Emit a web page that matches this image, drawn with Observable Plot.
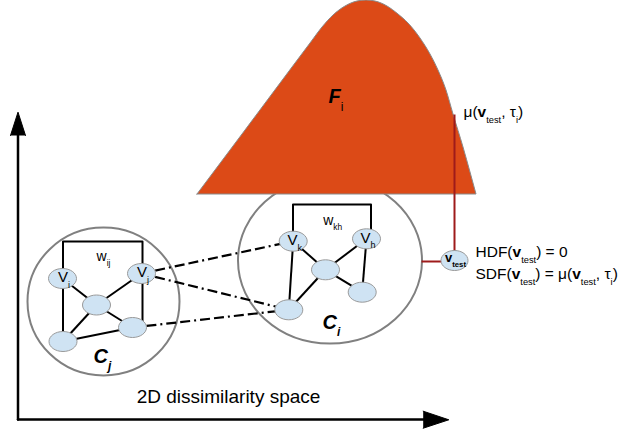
<!DOCTYPE html>
<html>
<head>
<meta charset="utf-8">
<script src="https://cdn.jsdelivr.net/npm/d3@7"></script>
<script src="https://cdn.jsdelivr.net/npm/@observablehq/plot@0.6"></script>
<style>
  html, body { margin: 0; padding: 0; background: #fff; }
  #chart svg { display: block; }
</style>
</head>
<body>
<div id="chart"></div>
<script>
// ---- density curve F_i (top outline, base at densityBase) ----
const densityX = [197, 245, 292, 310, 322, 333, 345, 357, 366, 375, 387, 398, 408, 420, 430, 438, 446, 453, 463, 470, 476];
const densityY = [194, 130, 67, 43, 27, 15, 6, 1, 0, 1, 6, 14, 23, 38, 54, 70, 90, 114, 147, 172, 194];
const densityBase = 194;

// ---- graph nodes ----
const nodeNames  = ["Vi", "Vj", "Cj-mid", "Cj-rl", "Cj-bl", "Vk", "Vh", "Ci-mid", "Ci-rl", "Ci-bl"];
const nodeX      = [62, 141, 96, 132, 62.5, 292.7, 366, 325, 361.7, 288.3];
const nodeY      = [278, 273, 304.5, 327, 341, 240.7, 238.3, 269.3, 291.7, 309.3];
const nodeLabels = ["V_{i}", "V_{j}", "", "", "", "V_{k}", "V_{h}", "", "", ""];

// ---- edges inside clusters ----
const edgeFrom = ["Vi", "Cj-mid", "Vj", "Cj-mid", "Cj-bl", "Vk", "Ci-mid", "Ci-mid", "Vh", "Vk", "Ci-mid"];
const edgeTo   = ["Cj-mid", "Cj-rl", "Cj-mid", "Cj-bl", "Cj-rl", "Ci-mid", "Vh", "Ci-rl", "Ci-rl", "Ci-bl", "Ci-bl"];

// ---- dash-dot links between clusters ----
const linkFrom = ["Vj", "Vj", "Cj-rl"];
const linkTo   = ["Vk", "Ci-bl", "Ci-bl"];

// ---- clusters ----
const clusterNames = ["C_{j}", "C_{i}"];
const clusterX  = [103, 329.5];
const clusterY  = [301, 260];
const clusterRx = [76, 92];
const clusterRy = [74, 83];

// ---- weight brackets (open rectangles) ----
const bracketJX = [62.5, 62.5, 142, 142];
const bracketJY = [341, 241, 241, 322];
const bracketIX = [292.5, 292.5, 370.5, 370.5];
const bracketIY = [241, 204, 204, 238];
const weightLabels = ["w_{ij}", "w_{kh}"];
const weightX = [96, 322.7];
const weightY = [255.8, 219.8];

// ---- test sample ----
const testX = 454, testY = 260;
const muTopY = 114;
const testLinkX = [421, 441];

// ---- axes ----
const axisYX = [17.5, 17.5], axisYY = [419, 134];
const axisXX = [17.5, 424], axisXY = [419, 419];
const headX = [10, 17.5, 25, 422.7, 448.3, 422.7];
const headY = [135, 111.7, 135, 410.7, 419.3, 427.7];
const headId = ["up", "up", "up", "right", "right", "right"];

// ---- annotations ----
const noteText = ["μ(*v*_{test}, τ_{i})", "HDF(*v*_{test}) = 0", "SDF(*v*_{test}) = μ(*v*_{test}, τ_{i})"];
const noteX = [463, 475, 475];
const noteY = [112, 252, 274];
const bigText = ["F^{i}", "C_{j}", "C_{i}"];
const bigX = [328, 93, 322];
const bigY = [96, 355.6, 321.6];
const spaceLabel = "2D dissimilarity space";
const spaceX = 228, spaceY = 396.5;

// ---- tables built from the arrays ----
const density = densityX.map((x, i) => ({x, y: densityY[i]}));
const nodes = nodeNames.map((n, i) => ({name: n, x: nodeX[i], y: nodeY[i], label: nodeLabels[i]}));
const byName = new Map(nodes.map(d => [d.name, d]));
const edges = edgeFrom.map((f, i) => ({a: byName.get(f), b: byName.get(edgeTo[i])}));
const links = linkFrom.map((f, i) => ({a: byName.get(f), b: byName.get(linkTo[i])}));
const clusters = clusterNames.map((n, i) => ({name: n, x: clusterX[i], y: clusterY[i], rx: clusterRx[i], ry: clusterRy[i]}));
const brackets = [
  ...bracketJX.map((x, i) => ({id: "j", x, y: bracketJY[i]})),
  ...bracketIX.map((x, i) => ({id: "i", x, y: bracketIY[i]}))
];
const heads = headX.map((x, i) => ({id: headId[i], x, y: headY[i]}));
const axes = [
  ...axisYX.map((x, i) => ({id: "y", x, y: axisYY[i]})),
  ...axisXX.map((x, i) => ({id: "x", x, y: axisXY[i]}))
];

// ellipse symbol: r gives the horizontal radius, k the vertical ratio
function ellipse(k) {
  return {
    draw(ctx, size) {
      const rx = Math.sqrt(size / Math.PI), ry = rx * k, c = 0.5523;
      ctx.moveTo(rx, 0);
      ctx.bezierCurveTo(rx, ry * c, rx * c, ry, 0, ry);
      ctx.bezierCurveTo(-rx * c, ry, -rx, ry * c, -rx, 0);
      ctx.bezierCurveTo(-rx, -ry * c, -rx * c, -ry, 0, -ry);
      ctx.bezierCurveTo(rx * c, -ry, rx, -ry * c, rx, 0);
      ctx.closePath();
    }
  };
}

const FONT = "Liberation Sans, Arial, Helvetica, sans-serif";
const nodeFill = "#cfe3f3", nodeStroke = "#9a9a9a";
const red = "#9e1b1b";

const plot = Plot.plot({
  width: 619,
  height: 431,
  margin: 0,
  x: {domain: [0, 619], range: [0, 619], axis: null},
  y: {domain: [0, 431], range: [0, 431], axis: null},
  style: {fontFamily: FONT, background: "white"},
  marks: [
    // axes
    Plot.line(axes, {x: "x", y: "y", z: "id", stroke: "black", strokeWidth: 2.5}),
    Plot.line(heads, {x: "x", y: "y", z: "id", fill: "black", stroke: "black", strokeWidth: 1}),
    // clusters
    Plot.dot(clusters.slice(0, 1), {x: "x", y: "y", r: clusterRx[0], symbol: ellipse(clusterRy[0] / clusterRx[0]), stroke: "#808080", strokeWidth: 2, fill: "none"}),
    Plot.dot(clusters.slice(1), {x: "x", y: "y", r: clusterRx[1], symbol: ellipse(clusterRy[1] / clusterRx[1]), stroke: "#808080", strokeWidth: 2, fill: "none"}),
    // density F_i
    Plot.areaY(density, {x: "x", y1: densityBase, y2: "y", curve: "monotone-x", fill: "#dc4a17", stroke: "#8a8a8a", strokeWidth: 1}),
    // brackets, edges, links
    Plot.line(brackets, {x: "x", y: "y", z: "id", stroke: "black", strokeWidth: 2}),
    Plot.link(edges, {x1: d => d.a.x, y1: d => d.a.y, x2: d => d.b.x, y2: d => d.b.y, stroke: "black", strokeWidth: 2}),
    Plot.link(links, {x1: d => d.a.x, y1: d => d.a.y, x2: d => d.b.x, y2: d => d.b.y, stroke: "black", strokeWidth: 2.2, strokeDasharray: "10,4,10,4,2,4"}),
    // test sample connectors
    Plot.link([{x: testX, y1: muTopY, y2: testY}], {x1: "x", x2: "x", y1: "y1", y2: "y2", stroke: red, strokeWidth: 2}),
    Plot.link([{x1: testLinkX[0], x2: testLinkX[1], y: testY + 1}], {x1: "x1", x2: "x2", y1: "y", y2: "y", stroke: red, strokeWidth: 2}),
    // nodes
    Plot.dot(nodes, {x: "x", y: "y", r: 14, symbol: ellipse(10 / 14), fill: nodeFill, stroke: nodeStroke, strokeWidth: 1}),
    Plot.dot([{x: testX, y: testY}], {x: "x", y: "y", r: 13.5, symbol: ellipse(10 / 13.5), fill: nodeFill, stroke: nodeStroke, strokeWidth: 1}),
    // labels
    Plot.text(nodes.filter(d => d.label), {x: "x", y: "y", text: "label", fontSize: 15, dx: 1.5, dy: -1, fill: "black", fontFamily: FONT}),
    Plot.text([{x: testX, y: testY, t: "*v*_{test}"}], {x: "x", y: "y", text: "t", fontSize: 13, fontWeight: "bold", dx: 1, dy: -3, fill: "black", fontFamily: FONT}),
    Plot.text(weightLabels, {x: (d, i) => weightX[i], y: (d, i) => weightY[i], text: d => d, fontSize: 14, textAnchor: "start", fill: "black", fontFamily: FONT}),
    Plot.text(bigText, {x: (d, i) => bigX[i], y: (d, i) => bigY[i], text: d => d, fontSize: 20, fontWeight: "bold", fontStyle: "italic", textAnchor: "start", fill: "black", fontFamily: FONT}),
    Plot.text(noteText, {x: (d, i) => noteX[i], y: (d, i) => noteY[i], text: d => d, fontSize: 15.5, textAnchor: "start", fill: "black", fontFamily: FONT}),
    Plot.text([spaceLabel], {x: spaceX, y: spaceY, text: d => d, fontSize: 19, textAnchor: "middle", fill: "black", fontFamily: FONT})
  ]
});

document.getElementById("chart").appendChild(plot);

// turn simple markup into tspans: *bold*, _{sub}, ^{plain sub}
function richify(svg) {
  const NS = "http://www.w3.org/2000/svg";
  svg.querySelectorAll("text").forEach(t => {
    const s = t.textContent;
    if (!/[*_^]/.test(s)) return;
    const fs = parseFloat(getComputedStyle(t).fontSize) || 12;
    while (t.firstChild) t.removeChild(t.firstChild);
    const re = /\*([^*]+)\*|_\{([^}]*)\}|\^\{([^}]*)\}|([^*_^]+)/g;
    const shift = fs * 0.38;
    let m, cur = 0;
    while ((m = re.exec(s))) {
      const ts = document.createElementNS(NS, "tspan");
      let target = 0;
      if (m[2] !== undefined || m[3] !== undefined) {
        ts.textContent = m[2] !== undefined ? m[2] : m[3];
        ts.setAttribute("font-size", (fs * 0.6).toFixed(2));
        if (m[3] !== undefined) { ts.setAttribute("font-style", "normal"); ts.setAttribute("font-weight", "normal"); }
        target = shift;
      } else {
        ts.textContent = m[1] !== undefined ? m[1] : m[4];
        if (m[1] !== undefined) ts.setAttribute("font-weight", "bold");
        target = 0;
      }
      const dy = target - cur;
      if (dy) ts.setAttribute("dy", dy.toFixed(2));
      cur = target;
      t.appendChild(ts);
    }
  });
}
richify(plot);
</script>
</body>
</html>
